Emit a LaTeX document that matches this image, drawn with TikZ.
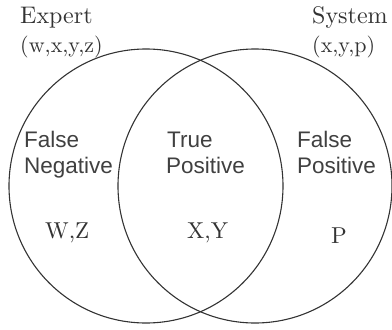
\documentclass[tikz,border=0pt]{standalone}
\usepackage{fontspec}
\setsansfont{Liberation Sans}
\newfontfamily\lmten{lmroman10-regular}[Extension=.otf]
\begin{document}
\begin{tikzpicture}[x=1pt,y=-1pt,
  ring/.style={draw=black!80, line width=1.1pt},
  serif/.style={inner sep=0pt, anchor=base west, text=black!80, font=\lmten\fontsize{22}{26}\selectfont},
  title/.style={serif, font=\lmten\fontsize{24}{28}\selectfont},
  sans/.style={inner sep=0pt, anchor=base west, text=black!75, font=\sffamily\fontsize{22.5}{27}\selectfont}]
\useasboundingbox (0,0) rectangle (392,330);
\draw[ring] (146,186) circle[radius=137];
\draw[ring] (255,186) circle[radius=137];
\node[title] (expert) at (20,23) {Expert};
\node[serif] (eset) at (20,52) {(w,x,y,z)};
\node[title] (system) at (312,23) {System};
\node[serif] (sset) at (312,52) {(x,y,p)};
\node[sans] (fn1) at (24,147) {False};
\node[sans] (fn2) at (24,173) {Negative};
\node[sans] (tp1) at (167,147) {True};
\node[sans] (tp2) at (166,173) {Positive};
\node[sans] (fp1) at (297,147) {False};
\node[sans] (fp2) at (297,173) {Positive};
\node[serif, font=\lmten\fontsize{23}{27}\selectfont] (wz) at (45,238) {W,Z};
\node[serif, font=\lmten\fontsize{23}{27}\selectfont] (xy) at (187,238) {X,Y};
\node[serif, font=\lmten\fontsize{23}{27}\selectfont] (p) at (331,243) {P};
\end{tikzpicture}
\end{document}
